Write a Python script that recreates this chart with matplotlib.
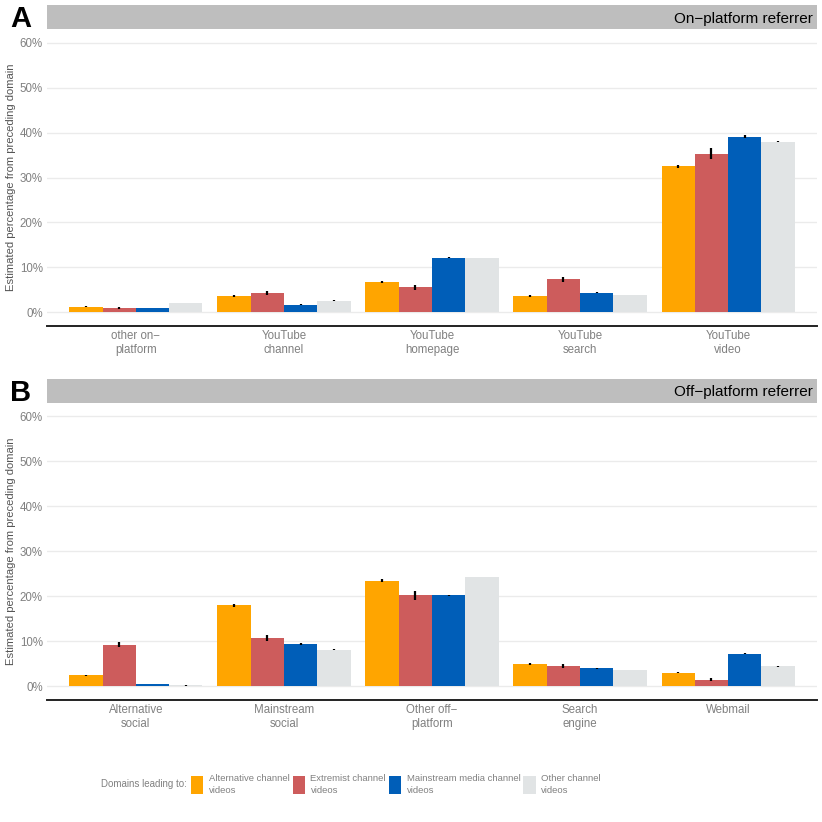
import numpy as np
import matplotlib.pyplot as plt
from matplotlib.patches import Patch

plt.rcParams['font.family'] = ['Liberation Sans', 'DejaVu Sans']

# legend groups and colours
groups = ['Alternative channel\nvideos', 'Extremist channel\nvideos',
          'Mainstream media channel\nvideos', 'Other channel\nvideos']
colors = ['#FFA500', '#CD5C5C', '#005EB8', '#E1E4E5']

# panel A: on-platform referrer (percent)
on_cats = ['other on\u2212\nplatform', 'YouTube\nchannel', 'YouTube\nhomepage',
           'YouTube\nsearch', 'YouTube\nvideo']
on_alt = [1.2, 3.7, 6.75, 3.6, 32.5]
on_ext = [1.0, 4.3, 5.6, 7.3, 35.3]
on_main = [1.0, 1.7, 12.15, 4.3, 39.1]
on_oth = [2.1, 2.6, 12.1, 3.9, 38.0]
on_alt_err = [0.1, 0.2, 0.2, 0.15, 0.3]
on_ext_err = [0.2, 0.45, 0.55, 0.55, 1.2]
on_main_err = [0.05, 0.1, 0.15, 0.1, 0.3]
on_oth_err = [0.05, 0.05, 0.05, 0.05, 0.05]

# panel B: off-platform referrer (percent)
off_cats = ['Alternative\nsocial', 'Mainstream\nsocial', 'Other off\u2212\nplatform',
            'Search\nengine', 'Webmail']
off_alt = [2.45, 18.0, 23.5, 5.05, 3.1]
off_ext = [9.3, 10.7, 20.2, 4.5, 1.55]
off_main = [0.6, 9.4, 20.2, 4.0, 7.3]
off_oth = [0.25, 8.2, 24.3, 3.7, 4.45]
off_alt_err = [0.15, 0.3, 0.3, 0.2, 0.15]
off_ext_err = [0.6, 0.65, 1.05, 0.4, 0.3]
off_main_err = [0.05, 0.15, 0.2, 0.1, 0.15]
off_oth_err = [0.05, 0.05, 0.05, 0.05, 0.05]

W = 822.0
fig = plt.figure(figsize=(8.22, 8.22), dpi=100)
grey = '#808080'


def panel(top, bottom, strip_top, cats, series, errs, strip_label, letter):
    ax = fig.add_axes([47 / W, 1 - bottom / W, 770 / W, (bottom - top) / W])
    x = np.arange(1, len(cats) + 1)
    bw = 0.9 / 4
    for i, (vals, err) in enumerate(zip(series, errs)):
        xs = x - 0.45 + bw * (i + 0.5)
        ax.bar(xs, vals, width=bw, color=colors[i], zorder=2)
        ax.errorbar(xs, vals, yerr=err, fmt='none', ecolor='black',
                    elinewidth=1.6, capsize=0, zorder=3)
    ax.set_xlim(0.4, len(cats) + 0.6)
    ax.set_ylim(-3, 63)
    ax.set_yticks(np.arange(0, 61, 10))
    ax.set_yticklabels([f'{v}%' for v in range(0, 61, 10)])
    ax.set_xticks(x)
    ax.set_xticklabels(cats, linespacing=1.25)
    ax.tick_params(length=0, labelsize=8.3, labelcolor=grey, pad=3)
    ax.grid(axis='y', color='#EBEBEB', linewidth=1, zorder=0)
    for s in ['top', 'right', 'left']:
        ax.spines[s].set_visible(False)
    ax.spines['bottom'].set_linewidth(1.4)
    ax.spines['bottom'].set_color('#222222')
    ax.set_ylabel('Estimated percentage from preceding domain', fontsize=8.1,
                  color='#555555')
    ax.yaxis.label.set_va('center')
    ax.yaxis.set_label_coords(-36 / 770, 0.5)
    # strip
    sx = fig.add_axes([47 / W, 1 - top / W, 770 / W, (top - strip_top) / W])
    sx.set_facecolor('#BEBEBE')
    sx.set_xticks([])
    sx.set_yticks([])
    for s in sx.spines.values():
        s.set_visible(False)
    sx.text(0.995, 0.45, strip_label, ha='right', va='center', fontsize=11,
            transform=sx.transAxes)
    fig.text(21 / W, 1 - (strip_top + 14) / W, letter, ha='center', va='center',
             fontsize=21, fontweight='bold')
    return ax


panel(29.5, 325.7, 5.3, on_cats, [on_alt, on_ext, on_main, on_oth],
      [on_alt_err, on_ext_err, on_main_err, on_oth_err], 'On\u2212platform referrer', 'A')
panel(402.7, 700, 379, off_cats, [off_alt, off_ext, off_main, off_oth],
      [off_alt_err, off_ext_err, off_main_err, off_oth_err], 'Off\u2212platform referrer', 'B')

# legend
fig.text(187 / W, 1 - 784 / W, 'Domains leading to:', ha='right', va='center',
         fontsize=7.0, color=grey)
handles = [Patch(facecolor=c, edgecolor='none', label=g) for c, g in zip(colors, groups)]
leg = fig.legend(handles=handles, ncol=4, loc='center left',
                 bbox_to_anchor=(191 / W, 1 - 784.5 / W),
                 frameon=False, fontsize=6.8, labelcolor=grey, handlelength=1.3,
                 handleheight=2.45, handletextpad=0.6, columnspacing=0.3,
                 borderaxespad=0, borderpad=0)
for t in leg.get_texts():
    t.set_linespacing(1.35)

fig.savefig('out.png', dpi=100)
